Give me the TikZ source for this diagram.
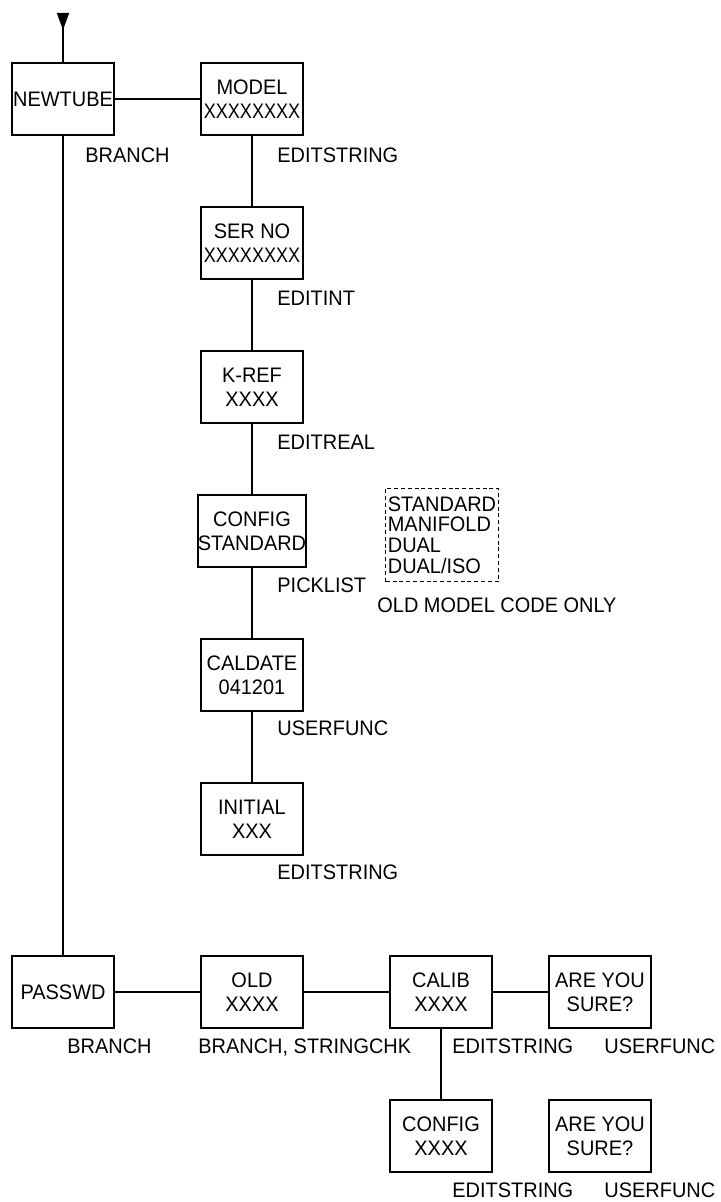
\documentclass[tikz,border=0pt]{standalone}
\usepackage{fontspec}
\setmainfont[FakeStretch=0.95]{Liberation Sans}
\newfontfamily\narrowfont[FakeStretch=0.86]{Liberation Sans}
\usetikzlibrary{arrows.meta}

\begin{document}
\begin{tikzpicture}[x=0.5pt, y=-0.5pt,
  menu/.style={rectangle, draw, line width=1.1pt, minimum width=51pt, minimum height=36pt, inner sep=0pt, align=center, font=\fontsize{10.5}{12}\selectfont},
  lbl/.style={anchor=west, inner sep=0pt, text depth=0pt, font=\fontsize{10.5}{12}\selectfont},
  link/.style={line width=0.85pt},
  opts/.style={rectangle, draw, line width=0.5pt, dash pattern=on 2pt off 1.4pt, inner xsep=1pt, inner ysep=4.3pt, align=left, font=\fontsize{10.5}{10.3}\selectfont}
]
  \useasboundingbox (0,0) rectangle (720,1202);
  % entry + first column
  \coordinate (entry) at (63,13);
  \node[menu] (newtube) at (63,99) {NEWTUBE};
  \node[menu] (passwd) at (63,992) {PASSWD};
  \node[lbl] (lbranch) at (85,155) {BRANCH};
  \node[lbl] (lbranchb) at (67,1046) {BRANCH};
  % new tube menu
  \node[menu] (model) at (252,99) {MODEL\\{\narrowfont XXXXXXXX}};
  \node[menu] (serno) at (252,243) {SER NO\\{\narrowfont XXXXXXXX}};
  \node[menu] (kref) at (252,387) {K-REF\\XXXX};
  \node[menu] (config) at (252,531) {CONFIG\\STANDARD};
  \node[menu] (caldate) at (252,675) {CALDATE\\041201};
  \node[menu] (initial) at (252,819) {INITIAL\\XXX};
  \node[lbl] (lmodel) at (277,155) {EDITSTRING};
  \node[lbl] (lserno) at (277,298) {EDITINT};
  \node[lbl] (lkref) at (277,442) {EDITREAL};
  \node[lbl] (lconfig) at (277,585) {PICKLIST};
  \node[lbl] (lcaldate) at (277,728) {USERFUNC};
  \node[lbl] (linitial) at (277,872) {EDITSTRING};
  % picklist choices
  \node[opts] (choices) at (442,535) {STANDARD\\MANIFOLD\\DUAL\\DUAL/ISO};
  \node[lbl] (lchoices) at (377,605) {OLD MODEL CODE ONLY};
  % password menu
  \node[menu] (old) at (252,992) {OLD\\XXXX};
  \node[menu] (calib) at (441,992) {CALIB\\XXXX};
  \node[menu] (sure) at (600,992) {ARE YOU\\SURE?};
  \node[menu] (cfgpw) at (441,1136) {CONFIG\\XXXX};
  \node[menu] (surecfg) at (600,1136) {ARE YOU\\SURE?};
  \node[lbl] (lold) at (198,1046) {BRANCH, STRINGCHK};
  \node[lbl] (lcalib) at (452,1046) {EDITSTRING};
  \node[lbl] (lsure) at (604,1046) {USERFUNC};
  \node[lbl] (lcfgpw) at (452,1190) {EDITSTRING};
  \node[lbl] (lsurecfg) at (604,1190) {USERFUNC};
  % links
  \draw[link, {Triangle[reversed, length=8.5pt, width=6pt]}-] (entry) -- (newtube);
  \draw[link] (newtube) -- (model);
  \draw[link] (newtube) -- (passwd);
  \foreach \a/\b in {model/serno, serno/kref, kref/config, config/caldate, caldate/initial}
    \draw[link] (\a) -- (\b);
  \foreach \a/\b in {passwd/old, old/calib, calib/sure, calib/cfgpw}
    \draw[link] (\a) -- (\b);
\end{tikzpicture}
\end{document}
